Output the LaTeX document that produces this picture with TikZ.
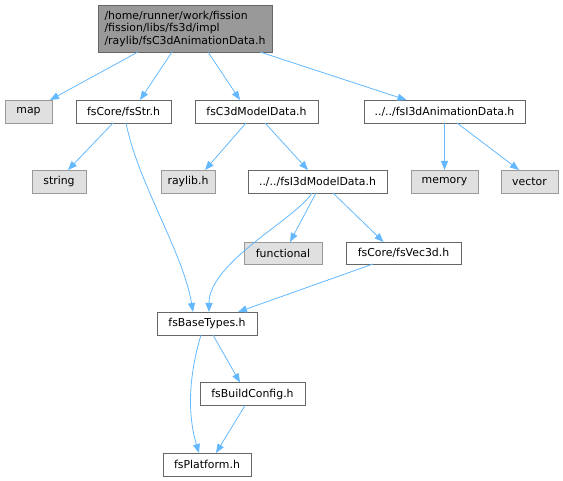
\documentclass[tikz,border=0pt]{standalone}
\usepackage{fontspec}
\setmainfont{DejaVu Sans}
\usetikzlibrary{arrows.meta}
\definecolor{edgeblue}{HTML}{63B8FF}
\definecolor{boxborder}{HTML}{666666}
\definecolor{sysborder}{HTML}{999999}
\definecolor{sysfill}{HTML}{E0E0E0}
\definecolor{topfill}{HTML}{999999}
\begin{document}
\begin{tikzpicture}[x=1pt,y=-1pt,
  every node/.style={font=\fontsize{10.9}{12.5}\selectfont, inner sep=0pt, outer sep=0pt},
  filebox/.style={draw=boxborder, fill=white, line width=0.8pt, minimum height=23pt},
  sysbox/.style={draw=sysborder, fill=sysfill, line width=0.8pt, minimum height=23pt},
  topbox/.style={draw=boxborder, fill=topfill, line width=0.8pt, minimum height=47pt, minimum width=174pt, align=left},
  dep/.style={draw=edgeblue, line width=0.8pt, -{Triangle[width=7pt,length=9pt]}}
]
\useasboundingbox (0,0) rectangle (563,481);

\node[topbox] (top) at (185,28.5) {/home/runner/work/fission\\/fission/libs/fs3d/impl\\/raylib/fsC3dAnimationData.h};
\node[sysbox, minimum width=47pt] (map) at (28.5,111.5) {map};
\node[filebox, minimum width=95pt] (fsStr) at (123.5,111.5) {fsCore/fsStr.h};
\node[filebox, minimum width=123pt] (fsC3d) at (256.5,111.5) {fsC3dModelData.h};
\node[filebox, minimum width=161pt] (anim) at (444.5,111.5) {../../fsI3dAnimationData.h};
\node[sysbox, minimum width=54pt] (string) at (59,181.5) {string};
\node[sysbox, minimum width=54pt] (raylib) at (188,181.5) {raylib.h};
\node[filebox, minimum width=139pt] (model) at (317.5,181.5) {../../fsI3dModelData.h};
\node[sysbox, minimum width=67pt] (memory) at (444.5,181.5) {memory};
\node[sysbox, minimum width=57pt] (vector) at (529.5,181.5) {vector};
\node[sysbox, minimum width=78pt, minimum height=22pt] (functional) at (283,253) {functional};
\node[filebox, minimum width=115pt, minimum height=22pt] (vec3d) at (403.5,253) {fsCore/fsVec3d.h};
\node[filebox, minimum width=100pt] (base) at (207,323.5) {fsBaseTypes.h};
\node[filebox, minimum width=105pt] (build) at (252.5,394) {fsBuildConfig.h};
\node[filebox, minimum width=88pt] (platform) at (207,464.5) {fsPlatform.h};

\draw[dep] ([xshift=-47pt]top.south) -- ([xshift=-2pt]map.north east);
\draw[dep] ([xshift=-13pt]top.south) -- ([xshift=16.5pt]fsStr.north);
\draw[dep] ([xshift=23pt]top.south) -- ([xshift=-16.5pt]fsC3d.north);
\draw[dep] ([xshift=75pt]top.south) -- ([xshift=-38pt]anim.north);
\draw[dep] ([xshift=-10.5pt]fsStr.south) -- ([xshift=9pt]string.north);
\draw[dep] ([xshift=2.5pt]fsStr.south) .. controls +(12,60) and +(-10,-60) .. ([xshift=-14pt]base.north);
\draw[dep] ([xshift=-10.5pt]fsC3d.south) -- ([xshift=17pt]raylib.north);
\draw[dep] ([xshift=8.5pt]fsC3d.south) -- ([xshift=-9.5pt]model.north);
\draw[dep] (anim.south) -- (memory.north);
\draw[dep] ([xshift=12.5pt]anim.south) -- ([xshift=-10.5pt]vector.north);
\draw[dep] ([xshift=-5.5pt]model.south) .. controls +(-15,25) and +(0,-50) .. ([xshift=2pt]base.north);
\draw[dep] ([xshift=-1.5pt]model.south) -- ([xshift=7pt]functional.north);
\draw[dep] ([xshift=15.5pt]model.south) -- ([xshift=-20pt]vec3d.north);
\draw[dep] ([xshift=-30.5pt]vec3d.south) -- ([xshift=31pt]base.north);
\draw[dep] ([xshift=6pt]base.south) -- ([xshift=-12.5pt]build.north);
\draw[dep] ([xshift=-6pt]base.south) .. controls +(-12,40) and +(-12,-40) .. ([xshift=-8pt]platform.north);
\draw[dep] ([xshift=-7.5pt]build.south) -- ([xshift=9pt]platform.north);
\end{tikzpicture}
\end{document}
